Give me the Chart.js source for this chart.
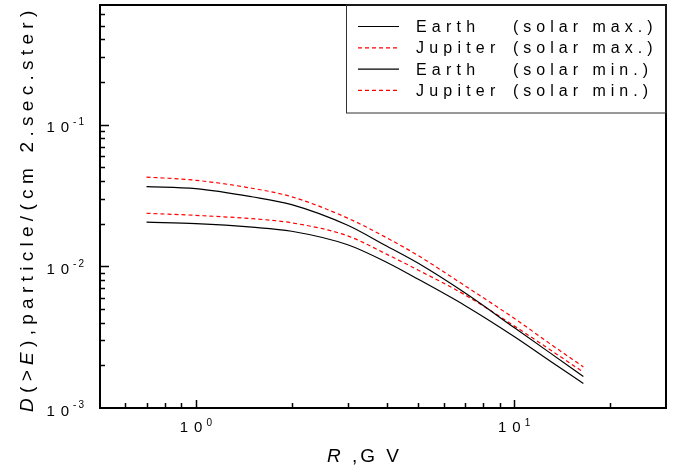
<!DOCTYPE html>
<html>
<head>
<meta charset="utf-8">
<script src="https://cdn.jsdelivr.net/npm/chart.js@4/dist/chart.umd.min.js"></script>
<style>
  html, body { margin: 0; padding: 0; background: #fff; }
</style>
</head>
<body>
<canvas id="chart" width="679" height="472"></canvas>
<script>
// rigidity R (GV) and integral flux D(>E)
const rigidity   = [0.7, 1, 1.5, 2, 3, 4, 5, 7, 10, 13, 16.5];
const earthMax   = [0.0366, 0.0354, 0.0310, 0.0273, 0.0195, 0.0138, 0.0105, 0.0065, 0.0037, 0.00244, 0.00167];
const jupiterMax = [0.0427, 0.0405, 0.0356, 0.0310, 0.0219, 0.0158, 0.0119, 0.0073, 0.0043, 0.00283, 0.00195];
const earthMin   = [0.0205, 0.0200, 0.0189, 0.0177, 0.0142, 0.0106, 0.0081, 0.0053, 0.0032, 0.00214, 0.00149];
const jupiterMin = [0.0237, 0.0229, 0.0217, 0.0203, 0.0164, 0.0121, 0.0094, 0.0063, 0.0038, 0.00257, 0.00179];

const seriesNames = [
  ['Earth', '(solar max.)'],
  ['Jupiter', '(solar max.)'],
  ['Earth', '(solar min.)'],
  ['Jupiter', '(solar min.)']
];
const xTickLabels = [{ value: 1, exp: '0' }, { value: 10, exp: '1' }];
const yTickLabels = [{ value: 0.001, exp: '-3' }, { value: 0.01, exp: '-2' }, { value: 0.1, exp: '-1' }];

const FONT = '"Liberation Sans", Arial, sans-serif';

const pts = (ys) => rigidity.map((x, i) => ({ x: x, y: ys[i] }));
const solid = { borderColor: '#000', borderWidth: 1.2, borderDash: [] };
const dashed = { borderColor: '#ff0000', borderWidth: 1.2, borderDash: [4, 3] };

const spacedText = (ctx, text, x, y, font, spacing) => {
  ctx.font = font;
  ctx.letterSpacing = spacing + 'px';
  ctx.fillText(text, x, y);
  return ctx.measureText(text).width;
};

const frame = {
  id: 'frame',
  afterDraw(chart) {
    const ctx = chart.ctx;
    const a = chart.chartArea;
    const xs = chart.scales.x, ys = chart.scales.y;
    ctx.save();
    ctx.fillStyle = '#000';
    ctx.strokeStyle = '#000';

    // log ticks, pointing inward
    ctx.lineWidth = 1.5;
    for (let d = -1; d <= 2; d++) {
      for (let m = 1; m <= 9; m++) {
        const v = m * Math.pow(10, d);
        if (v <= xs.min || v >= xs.max) continue;
        const px = Math.round(xs.getPixelForValue(v)) + 0.5;
        const len = m === 1 ? 8 : 5;
        ctx.beginPath(); ctx.moveTo(px, a.bottom); ctx.lineTo(px, a.bottom - len); ctx.stroke();
      }
    }
    for (let d = -4; d <= 0; d++) {
      for (let m = 1; m <= 9; m++) {
        const v = m * Math.pow(10, d);
        if (v <= ys.min * 1.0001 || v >= ys.max * 0.9999) continue;
        const py = Math.round(ys.getPixelForValue(v)) + 0.5;
        const len = m === 1 ? 9 : 5;
        ctx.beginPath(); ctx.moveTo(a.left, py); ctx.lineTo(a.left + len, py); ctx.stroke();
      }
    }

    // frame
    ctx.lineWidth = 2;
    ctx.strokeRect(a.left, a.top, a.right - a.left, a.bottom - a.top);

    // tick labels 10^n
    ctx.textBaseline = 'middle';
    ctx.textAlign = 'left';
    const baseFont = '15px ' + FONT, expFont = '10px ' + FONT;
    const labelWidth = (exp) => {
      ctx.font = baseFont; ctx.letterSpacing = '6px';
      const w1 = ctx.measureText('10').width;
      ctx.font = expFont; ctx.letterSpacing = '2px';
      return [w1, w1 + ctx.measureText(exp).width];
    };
    xTickLabels.forEach(t => {
      const [w1, w] = labelWidth(t.exp);
      const x0 = xs.getPixelForValue(t.value) - w / 2 + 2;
      spacedText(ctx, '10', x0, a.bottom + 20, baseFont, 6);
      spacedText(ctx, t.exp, x0 + w1 - 2, a.bottom + 15, expFont, 2);
    });
    yTickLabels.forEach(t => {
      const [w1, w] = labelWidth(t.exp);
      const py = ys.getPixelForValue(t.value);
      const x0 = 88 - w;
      spacedText(ctx, '10', x0, py + 3.5, baseFont, 6);
      spacedText(ctx, t.exp, x0 + w1 - 2, py - 2.5, expFont, 2);
    });

    // axis titles
    ctx.textBaseline = 'alphabetic';
    const titleFont = '19px ' + FONT, titleItalic = 'italic 19px ' + FONT;
    let x = 327;
    x += spacedText(ctx, 'R', x, 462, titleItalic, 3);
    spacedText(ctx, ' ,G V', x, 462, titleFont, 3);

    ctx.save();
    ctx.translate(33, 412);
    ctx.rotate(-Math.PI / 2);
    let y = 0;
    [['D', true], ['(>', false], ['E', true], ['),particle/(cm 2.sec.ster)', false]].forEach(([s, it]) => {
      y += spacedText(ctx, s, y, 0, (it ? titleItalic : titleFont), 5.3);
    });
    ctx.restore();

    // legend box
    ctx.letterSpacing = '0px';
    ctx.lineWidth = 1;
    ctx.strokeStyle = '#333';
    ctx.strokeRect(346.5, a.top, a.right - 346.5, 108);
    ctx.textBaseline = 'middle';
    chart.data.datasets.forEach((ds, i) => {
      const ry = 26.5 + i * 21.3;
      ctx.strokeStyle = ds.borderColor;
      ctx.lineWidth = 1.2;
      ctx.setLineDash(ds.borderDash);
      ctx.beginPath(); ctx.moveTo(358, ry); ctx.lineTo(399, ry); ctx.stroke();
      ctx.setLineDash([]);
      ctx.fillStyle = '#000';
      spacedText(ctx, seriesNames[i][0], 416, ry + 1, '16px ' + FONT, 5.2);
      spacedText(ctx, seriesNames[i][1], 513, ry + 1, '16px ' + FONT, 5.0);
    });
    ctx.restore();
  }
};

new Chart(document.getElementById('chart').getContext('2d'), {
  type: 'line',
  data: {
    datasets: [
      Object.assign({ label: 'Earth (solar max.)', data: pts(earthMax) }, solid),
      Object.assign({ label: 'Jupiter (solar max.)', data: pts(jupiterMax) }, dashed),
      Object.assign({ label: 'Earth (solar min.)', data: pts(earthMin) }, solid),
      Object.assign({ label: 'Jupiter (solar min.)', data: pts(jupiterMin) }, dashed)
    ]
  },
  options: {
    responsive: false,
    animation: false,
    layout: { padding: { left: 100, top: 5, right: 13, bottom: 64 } },
    elements: { point: { radius: 0 }, line: { cubicInterpolationMode: 'monotone', fill: false } },
    plugins: { legend: { display: false }, tooltip: { enabled: false } },
    scales: {
      x: { type: 'logarithmic', min: 0.5, max: 30, display: false },
      y: { type: 'logarithmic', min: 0.001, max: 0.7, display: false }
    }
  },
  plugins: [frame]
});
</script>
</body>
</html>
